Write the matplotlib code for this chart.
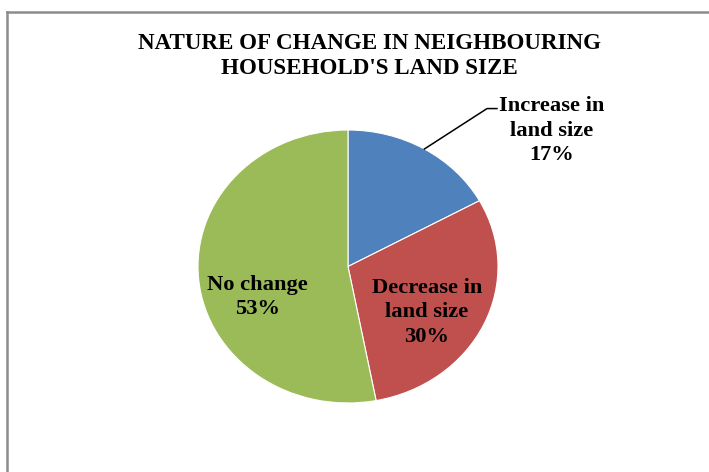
import numpy as np
import matplotlib
matplotlib.use("Agg")
import matplotlib.pyplot as plt
from matplotlib.lines import Line2D

# Survey shares of neighbouring households by change in land size
categories = ["Increase in land size", "Decrease in land size", "No change"]
shares = [17, 30, 53]
colors = ["#4F81BD", "#C0504D", "#9BBB59"]
label_text = ["Increase in\nland size\n17%", "Decrease in\nland size\n30%", "No change\n53%"]

title = "NATURE OF CHANGE IN NEIGHBOURING\nHOUSEHOLD'S LAND SIZE"

W, H = 709, 472
fig = plt.figure(figsize=(W / 100, H / 100), dpi=100)
fig.patch.set_facecolor("white")

serif = ["Liberation Serif", "DejaVu Serif"]

# chart-area frame (left and top edges)
fig.add_artist(Line2D([7 / W, 7 / W], [0, 1 - 12 / H], color="#8c8c8c", lw=1.8))
fig.add_artist(Line2D([7 / W, 708 / W], [1 - 12 / H, 1 - 12 / H], color="#8c8c8c", lw=1.8))

fig.text(369 / W, 1 - 56 / H, title, ha="center", va="center", family=serif,
         fontweight="bold", fontsize=16.6, linespacing=1.2)

ax = fig.add_axes([198 / W, 1 - 403 / H, 300 / W, 273 / H])
wedges, _ = ax.pie(shares, colors=colors, startangle=90, counterclock=False,
                   radius=1.0, wedgeprops=dict(linewidth=0.8, edgecolor="white"))
ax.set_aspect("auto")
ax.set_xlim(-1, 1)
ax.set_ylim(-1, 1)
ax.axis("off")

# leader line for the small slice, from the middle of its arc
w0 = wedges[0]
mid = np.deg2rad((w0.theta1 + w0.theta2) / 2)
px, py = np.cos(mid), np.sin(mid)
ax.plot([px, 0.927, 0.993], [py, 1.157, 1.157], color="black", lw=1.1, clip_on=False)

lbl_kw = dict(ha="center", va="center", family=serif, fontweight="bold",
              fontsize=16.2, linespacing=1.3)
ax.text(1.36, 0.995, label_text[0], **lbl_kw)
ax.text(0.527, -0.335, label_text[1], **lbl_kw)
ax.text(-0.603, -0.225, label_text[2], **lbl_kw)

fig.savefig("out.png", dpi=100, facecolor="white")
